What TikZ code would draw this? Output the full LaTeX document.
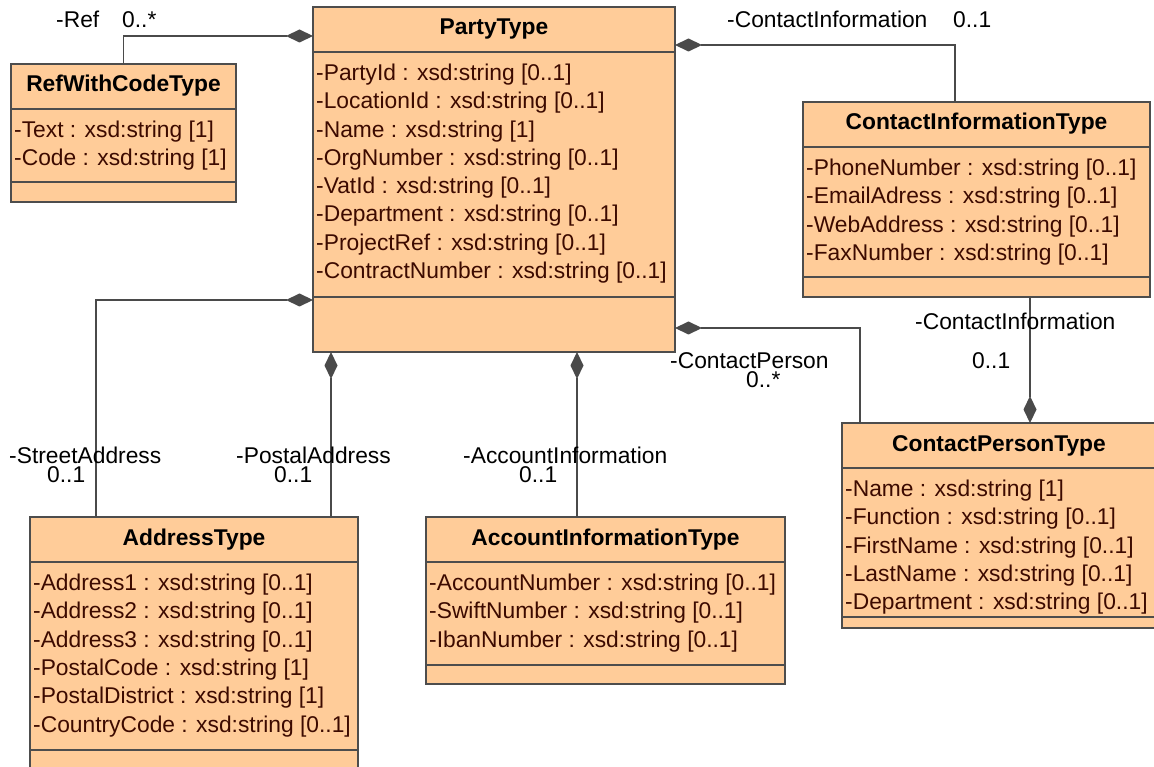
\documentclass[tikz,border=0pt]{standalone}
\usepackage{fontspec}
\setmainfont{Liberation Sans}
\usetikzlibrary{arrows.meta}

\definecolor{classfill}{HTML}{FFCC99}
\definecolor{edgegray}{HTML}{4D4D4D}
\definecolor{linkgray}{HTML}{4A4A4A}
\definecolor{attrtext}{HTML}{3C0A00}

\newcommand\diagramfont{\fontsize{22.8}{27}\selectfont}

\tikzset{
  classbox/.style={draw=edgegray, fill=classfill, line width=1.4pt, rectangle,
                   inner sep=0pt, outer sep=0pt, anchor=north west},
  boxline/.style={draw=edgegray, line width=1.4pt},
  classtitle/.style={anchor=base, inner sep=0pt, font=\diagramfont\bfseries, text=black},
  attr/.style={anchor=base west, inner sep=0pt, font=\diagramfont, text=attrtext},
  lbl/.style={anchor=base west, inner sep=0pt, font=\diagramfont, text=black},
  comp/.style={draw=linkgray, line width=1.2pt, {Diamond[length=27pt,width=13pt]}-},
  compend/.style={draw=linkgray, line width=1.2pt, -{Diamond[length=27pt,width=13pt]}},
}

% #1 name, #2 left, #3 top, #4 width, #5 height,
% #6 title compartment height, #7 attribute compartment bottom, #8 title, #9 attributes
\newcommand\umlclass[9]{%
  \node[classbox, minimum width=#4pt, minimum height=#5pt] (#1) at (#2,#3) {};
  \draw[boxline] ([yshift=-#6pt]#1.north west) -- ([yshift=-#6pt]#1.north east);
  \draw[boxline] ([yshift=-#7pt]#1.north west) -- ([yshift=-#7pt]#1.north east);
  \node[classtitle] (#1-title) at ([yshift=-28pt]#1.north) {#8};
  \foreach \a [count=\i] in {#9} {
    \node[attr] (#1-attr\i) at ([xshift=3pt,yshift={-(#6+0.2+28.3*\i)*1pt}]#1.north west) {\a};
  }%
}

\begin{document}
\begin{tikzpicture}[x=1pt, y=-1pt, font=\diagramfont]
\useasboundingbox (0,0) rectangle (1154,767);

\umlclass{ref}{11}{64}{225}{138}{45}{118}{RefWithCodeType}
  {-Text : xsd:string [1], -Code : xsd:string [1]}

\umlclass{party}{313}{7}{362}{345}{45}{290}{PartyType}
  {-PartyId : xsd:string [0..1], -LocationId : xsd:string [0..1],
   -Name : xsd:string [1], -OrgNumber : xsd:string [0..1],
   -VatId : xsd:string [0..1], -Department : xsd:string [0..1],
   -ProjectRef : xsd:string [0..1], -ContractNumber : xsd:string [0..1]}

\umlclass{cinfo}{803}{102}{347}{195}{45}{175}{ContactInformationType}
  {-PhoneNumber : xsd:string [0..1], -EmailAdress : xsd:string [0..1],
   -WebAddress : xsd:string [0..1], -FaxNumber : xsd:string [0..1]}

\umlclass{cperson}{842}{423}{314}{205}{45}{194}{ContactPersonType}
  {-Name : xsd:string [1], -Function : xsd:string [0..1],
   -FirstName : xsd:string [0..1], -LastName : xsd:string [0..1],
   -Department : xsd:string [0..1]}

\umlclass{addr}{30}{517}{328}{280}{45}{233}{AddressType}
  {-Address1 : xsd:string [0..1], -Address2 : xsd:string [0..1],
   -Address3 : xsd:string [0..1], -PostalCode : xsd:string [1],
   -PostalDistrict : xsd:string [1], -CountryCode : xsd:string [0..1]}

\umlclass{acc}{426}{517}{359}{167}{45}{148}{AccountInformationType}
  {-AccountNumber : xsd:string [0..1], -SwiftNumber : xsd:string [0..1],
   -IbanNumber : xsd:string [0..1]}

% composition links
\draw[comp] ([yshift=-29pt]party.north west) -| (ref.north);
\draw[comp] ([yshift=-38pt]party.north east) -| ([xshift=-21.5pt]cinfo.north);
\draw[comp] ([yshift=-293pt]party.north west) -| ([xshift=-98pt]addr.north);
\draw[comp] ([xshift=-163pt]party.south) -- ([xshift=-163pt]party.south |- addr.north);
\draw[comp] ([xshift=83pt]party.south) -- ([xshift=83pt]party.south |- acc.north);
\draw[comp] ([yshift=24pt]party.south east) -| ([xshift=18pt]cperson.north west);
\draw[compend] ([xshift=53.5pt]cinfo.south) -- ([xshift=53.5pt]cinfo.south |- cperson.north);

% role names and multiplicities
\node[lbl] (l-ref) at (56,28) {-Ref};
\node[lbl] (m-ref) at (122,28) {0..*};
\node[lbl] (l-ci) at (727,28) {-ContactInformation};
\node[lbl] (m-ci) at (953,28) {0..1};
\node[lbl] (l-ci2) at (915,330) {-ContactInformation};
\node[lbl] (m-ci2) at (972,368) {0..1};
\node[lbl] (l-cp) at (670,368) {-ContactPerson};
\node[lbl] (m-cp) at (746,387) {0..*};
\node[lbl] (l-sa) at (9,463) {-StreetAddress};
\node[lbl] (m-sa) at (47,482) {0..1};
\node[lbl] (l-pa) at (236,463) {-PostalAddress};
\node[lbl] (m-pa) at (274,482) {0..1};
\node[lbl] (l-ai) at (463,463) {-AccountInformation};
\node[lbl] (m-ai) at (519,482) {0..1};
\end{tikzpicture}
\end{document}
